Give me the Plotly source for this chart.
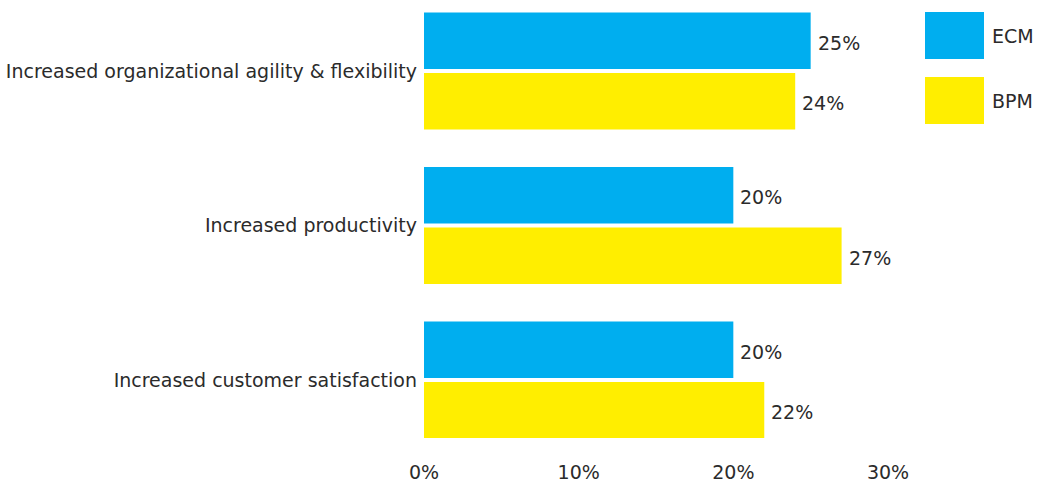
import plotly.graph_objects as go

categories = ["Increased organizational agility & flexibility",
              "Increased productivity",
              "Increased customer satisfaction"]
ecm = [25, 20, 20]
bpm = [24, 27, 22]
x_ticks = [0, 10, 20, 30]
x_tick_labels = ["0%", "10%", "20%", "30%"]

BLUE = "#00AEEF"
YELLOW = "#FFEE00"
FONT = "DejaVu Sans, Verdana, sans-serif"
TXT = "#2b2b2b"
FS = 19

fig = go.Figure()
fig.add_trace(go.Bar(y=categories, x=ecm, orientation="h", name="ECM",
                     marker=dict(color=BLUE, line=dict(width=0))))
fig.add_trace(go.Bar(y=categories, x=bpm, orientation="h", name="BPM",
                     marker=dict(color=YELLOW, line=dict(width=0))))

PT, PB = 5, 438  # plot top / bottom in pixels
fig.update_layout(
    width=1041, height=483,
    margin=dict(l=424, r=153, t=PT, b=483 - PB),
    paper_bgcolor="white", plot_bgcolor="white",
    barmode="group", bargap=0.217, bargroupgap=0.066,
    showlegend=False,
    font=dict(family=FONT, size=FS, color=TXT),
    xaxis=dict(range=[0, 30], tickvals=x_ticks, ticktext=x_tick_labels,
               showgrid=False, zeroline=False, showline=False, automargin=False,
               ticks="", ticklabelstandoff=21,
               tickfont=dict(size=FS, color=TXT, family=FONT)),
    yaxis=dict(type="category", categoryorder="array", categoryarray=categories,
               range=[2.375, -0.427], showgrid=False, zeroline=False, automargin=False,
               showline=False, ticks="", ticklabelstandoff=6,
               tickfont=dict(size=FS, color=TXT, family=FONT)),
)

# value labels placed from the data
offset = 0.196  # half of bar slot in category units
for i, cat in enumerate(categories):
    for val, dy in ((ecm[i], -offset), (bpm[i], offset)):
        fig.add_annotation(x=val, y=i + dy, xref="x", yref="y",
                           text=f"{val}%", showarrow=False,
                           xanchor="left", yanchor="middle", xshift=5, yshift=-2,
                           font=dict(size=FS, color=TXT, family=FONT))

# custom legend
H = PB - PT
legend_items = [("ECM", BLUE), ("BPM", YELLOW)]
for i, (name, col) in enumerate(legend_items):
    y0 = 12 + i * 65
    fig.add_shape(type="rect", xref="paper", yref="paper",
                  x0=(925 - 424) / 464, x1=(984 - 424) / 464,
                  y0=1 - (y0 + 47 - PT) / H, y1=1 - (y0 - PT) / H,
                  fillcolor=col, line=dict(width=0))
    fig.add_annotation(xref="paper", yref="paper",
                       x=(990 - 424) / 464, y=1 - (y0 + 24 - PT) / H,
                       text=name, showarrow=False, xanchor="left", yanchor="middle",
                       font=dict(size=FS, color=TXT, family=FONT))

fig.write_html("out.html", config={"displayModeBar": False},
               post_script="document.body.style.margin='0';")
